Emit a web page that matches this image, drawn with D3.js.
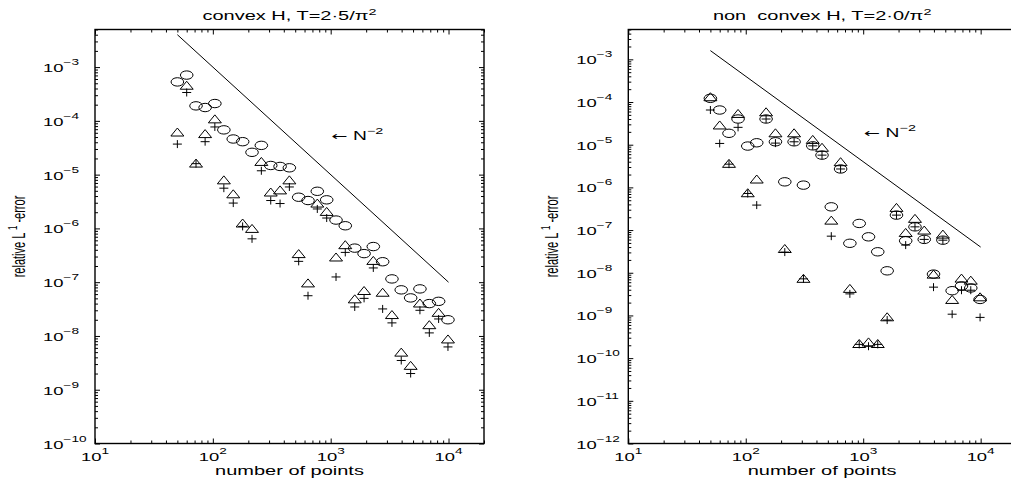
<!DOCTYPE html>
<html>
<head>
<meta charset="utf-8">
<script src="https://cdn.jsdelivr.net/npm/d3@7"></script>
<style>
  body { margin: 0; background: #fff; }
  text { font-family: "Liberation Sans", Arial, Helvetica, sans-serif; fill: #000; white-space: pre; }
</style>
</head>
<body>
<div id="chart"></div>
<script>
// Number of points (x values), same for both panels
var nPoints = [50, 60, 72, 86, 104, 124, 149, 179, 215, 258, 310, 372, 446, 535, 642,
  770, 925, 1110, 1330, 1600, 1920, 2300, 2760, 3310, 3970, 4770, 5720, 6870, 8240, 9890];

// convex H, T=2.5/pi^2
var convexCircle = [5.3e-4, 7.1e-4, 1.9e-4, 1.77e-4, 2.1e-4, 6.8e-5, 4.6e-5, 4.1e-5, 2.6e-5, 3.5e-5,
  1.48e-5, 1.42e-5, 1.34e-5, 3.8e-6, 3.3e-6, 4.9e-6, 3.4e-6, 1.43e-6, 1.12e-6, 4.3e-7,
  3.4e-7, 4.6e-7, 2.4e-7, 1.15e-7, 7.2e-8, 5.1e-8, 7.5e-8, 4.0e-8, 4.4e-8, 2.0e-8];
var convexTriangle = [6.2e-5, 4.6e-4, 1.64e-5, 5.8e-5, 1.09e-4, 8.0e-6, 4.4e-6, 1.26e-6, 1.0e-6, 1.76e-5,
  4.75e-6, 5.2e-6, 8.0e-6, 3.4e-7, 9.7e-8, 2.96e-6, 2.07e-6, 2.94e-7, 4.98e-7, 4.9e-8,
  7.0e-8, 2.54e-7, 6.5e-8, 2.5e-8, 5.0e-9, 2.84e-9, 4.1e-8, 1.62e-8, 2.75e-8, 8.8e-9];
var convexPlus = [3.7e-5, 3.37e-4, 1.6e-5, 4.1e-5, 7.7e-5, 5.6e-6, 2.96e-6, 1.09e-6, 6.4e-7, 1.18e-5,
  3.3e-6, 2.9e-6, 5.9e-6, 2.44e-7, 5.6e-8, 2.3e-6, 1.56e-6, 1.25e-7, 3.58e-7, 3.46e-8,
  5.0e-8, 1.84e-7, 3.18e-8, 1.75e-8, 3.5e-9, 2.0e-9, 3.0e-8, 1.14e-8, 2.07e-8, 6.25e-9];

// non convex H, T=2.0/pi^2
var nonconvexCircle = [1.22e-4, 6.5e-5, 1.85e-5, 4.0e-5, 9.3e-6, 1.11e-5, 4.0e-5, 1.17e-5, 1.35e-6, 1.17e-5,
  1.13e-6, 9.4e-6, 5.7e-6, 3.5e-7, 2.7e-6, 4.9e-8, 1.43e-7, 6.95e-8, 3.1e-8, 1.11e-8,
  2.24e-7, 5.6e-8, 1.19e-7, 6.05e-8, 9.3e-9, 5.8e-8, 3.8e-9, 4.9e-9, 4.4e-9, 2.37e-9];
var nonconvexTriangle = [1.33e-4, 2.9e-5, 3.66e-6, 5.4e-5, 7.5e-7, 1.57e-6, 5.9e-5, 1.9e-5, 3.7e-8, 1.9e-5,
  7.4e-9, 1.33e-5, 8.7e-6, 1.71e-7, 4.0e-6, 4.3e-9, 2.2e-10, 2.4e-10, 2.2e-10, 9.3e-10,
  3.4e-7, 8.8e-8, 1.88e-7, 1.0e-7, 9.3e-9, 8.05e-8, 2.37e-9, 7.5e-9, 6.7e-9, 2.73e-9];
var nonconvexPlus = [6.5e-5, 1.07e-5, 3.5e-6, 2.55e-5, 7.2e-7, 3.85e-7, 4.0e-5, 1.09e-5, 3.05e-8, 1.17e-5,
  7.2e-9, 9.4e-6, 5.7e-6, 7.2e-8, 2.7e-6, 3.2e-9, 2.1e-10, 1.9e-10, 2.1e-10, 7.8e-10,
  2.24e-7, 4.45e-8, 1.19e-7, 6.05e-8, 4.6e-9, 5.8e-8, 1.07e-9, 3.9e-9, 3.9e-9, 9.0e-10];

// N^-2 reference lines and their labels
var refN = [50, 10000];
var convexRef = [4e-3, 1e-7];
var nonconvexRef = [1.6e-3, 4e-8];
var noteN = 1020;
var convexNoteY = 4.5e-5;
var nonconvexNoteY = 1.5e-5;

var xDomain = [10, 2e4];
var yTop = 5e-3;

// Define SVG area
var svgWidth = 1011;
var svgHeight = 483;
var plotTop = 29.5;
var plotBottom = 443.5;
var stretch = 1.6; // the original figure is stretched horizontally

var svg = d3.select("#chart")
  .append("svg")
  .attr("width", svgWidth)
  .attr("height", svgHeight);

var panels = [
  { title: "convex H, T=2\u00b75/\u03c0", left: 95, right: 484, yMin: 1e-10,
    circle: convexCircle, triangle: convexTriangle, plus: convexPlus, ref: convexRef, noteY: convexNoteY },
  { title: "non  convex H, T=2\u00b70/\u03c0", left: 628.3, right: 1016, yMin: 1e-12,
    circle: nonconvexCircle, triangle: nonconvexTriangle, plus: nonconvexPlus, ref: nonconvexRef, noteY: nonconvexNoteY }
];

// decade and minor tick values of a log domain
function logTicks(domain) {
  var major = [], minor = [];
  var lo = Math.floor(Math.log10(domain[0])), hi = Math.ceil(Math.log10(domain[1]));
  for (var e = lo; e <= hi; e++) {
    for (var k = 1; k < 10; k++) {
      var v = k * Math.pow(10, e);
      if (v < domain[0] * 0.999 || v > domain[1] * 1.001) continue;
      if (k == 1) major.push(v); else minor.push(v);
    }
  }
  return { major: major, minor: minor };
}

// text drawn with the same horizontal stretch as the picture
function stretchText(g, x, y, size, anchor) {
  return g.append("text")
    .attr("transform", `translate(${x},${y}) scale(${stretch},1)`)
    .attr("font-size", size + "px")
    .attr("text-anchor", anchor);
}

function powerLabel(g, x, y, exp, anchor) {
  var t = stretchText(g, x, y, 11.5, anchor);
  t.append("tspan").text("10");
  t.append("tspan").attr("dy", -7).attr("font-size", "8.5px").text(exp);
  return t;
}

panels.forEach(function(p) {
  var xScale = d3.scaleLog().domain(xDomain).range([p.left, p.right]);
  var yScale = d3.scaleLog().domain([p.yMin, yTop]).range([plotBottom, plotTop]);
  var g = svg.append("g");

  var xt = logTicks(xDomain);
  var yt = logTicks([p.yMin, yTop]);

  // inward ticks on all four sides
  var sides = [
    [d3.axisBottom(xScale), `translate(0,${plotBottom})`, xt],
    [d3.axisTop(xScale), `translate(0,${plotTop})`, xt],
    [d3.axisLeft(yScale), `translate(${p.left},0)`, yt],
    [d3.axisRight(yScale), `translate(${p.right},0)`, yt]
  ];
  sides.forEach(function(s) {
    [[s[2].major, 5], [s[2].minor, 3]].forEach(function(set) {
      var axis = s[0].tickValues(set[0]).tickSizeInner(-set[1]).tickSizeOuter(0).tickFormat(() => "");
      g.append("g")
        .attr("transform", s[1])
        .call(axis)
        .call(a => a.select(".domain").remove())
        .selectAll("line").attr("stroke", "#000").attr("stroke-width", 1);
    });
  });

  // box
  g.append("rect")
    .attr("x", p.left).attr("y", plotTop)
    .attr("width", p.right - p.left).attr("height", plotBottom - plotTop)
    .attr("fill", "none").attr("stroke", "#000").attr("stroke-width", 1.4);

  // tick labels
  xt.major.forEach(function(v) {
    powerLabel(g, xScale(v), 461, String(Math.round(Math.log10(v))), "middle");
  });
  yt.major.forEach(function(v) {
    powerLabel(g, p.left - 52, yScale(v) + 5, "\u2212" + Math.round(-Math.log10(v)), "start");
  });

  // title
  var title = stretchText(g, (p.left + p.right) / 2, 20, 12.5, "middle");
  title.append("tspan").text(p.title);
  title.append("tspan").attr("dy", -5).attr("font-size", "9px").text("2");

  // axis labels
  stretchText(g, (p.left + p.right) / 2, 475, 12.5, "middle").text("number of points");

  var yl = g.append("text")
    .attr("transform", `translate(${p.left - 70},${(plotTop + plotBottom) / 2}) scale(${stretch},1) rotate(-90)`)
    .attr("font-size", "11px")
    .attr("text-anchor", "middle");
  yl.append("tspan").text("relative L ");
  yl.append("tspan").attr("dy", -5).attr("font-size", "8px").text("1");
  yl.append("tspan").attr("dy", 5).attr("font-size", "11px").text(" -error");

  // N^-2 reference line
  var line = d3.line()
    .x(d => xScale(d[0]))
    .y(d => yScale(d[1]));
  g.append("path")
    .attr("d", line(d3.zip(refN, p.ref)))
    .attr("fill", "none").attr("stroke", "#000").attr("stroke-width", 1);

  var note = stretchText(g, xScale(noteN), yScale(p.noteY), 12, "start");
  note.append("tspan").attr("font-family", "DejaVu Sans").attr("font-size", "12px").text("\u2190");
  note.append("tspan").text(" N");
  note.append("tspan").attr("dy", -6).attr("font-size", "9px").text("\u22122");

  // markers
  var pts = function(vals) { return d3.zip(nPoints, vals); };

  g.selectAll(".circ")
    .data(pts(p.circle))
    .enter()
    .append("ellipse")
    .attr("cx", d => xScale(d[0]))
    .attr("cy", d => yScale(d[1]))
    .attr("rx", 6.3).attr("ry", 4.2)
    .attr("fill", "none").attr("stroke", "#000").attr("stroke-width", 1);

  g.selectAll(".tri")
    .data(pts(p.triangle))
    .enter()
    .append("path")
    .attr("transform", d => `translate(${xScale(d[0])},${yScale(d[1])})`)
    .attr("d", "M0,-4L6.5,4L-6.5,4Z")
    .attr("fill", "none").attr("stroke", "#000").attr("stroke-width", 1);

  g.selectAll(".plus")
    .data(pts(p.plus))
    .enter()
    .append("path")
    .attr("transform", d => `translate(${xScale(d[0])},${yScale(d[1])})`)
    .attr("d", "M-4.5,0H4.5M0,-4V4")
    .attr("fill", "none").attr("stroke", "#000").attr("stroke-width", 1);
});
</script>
</body>
</html>
